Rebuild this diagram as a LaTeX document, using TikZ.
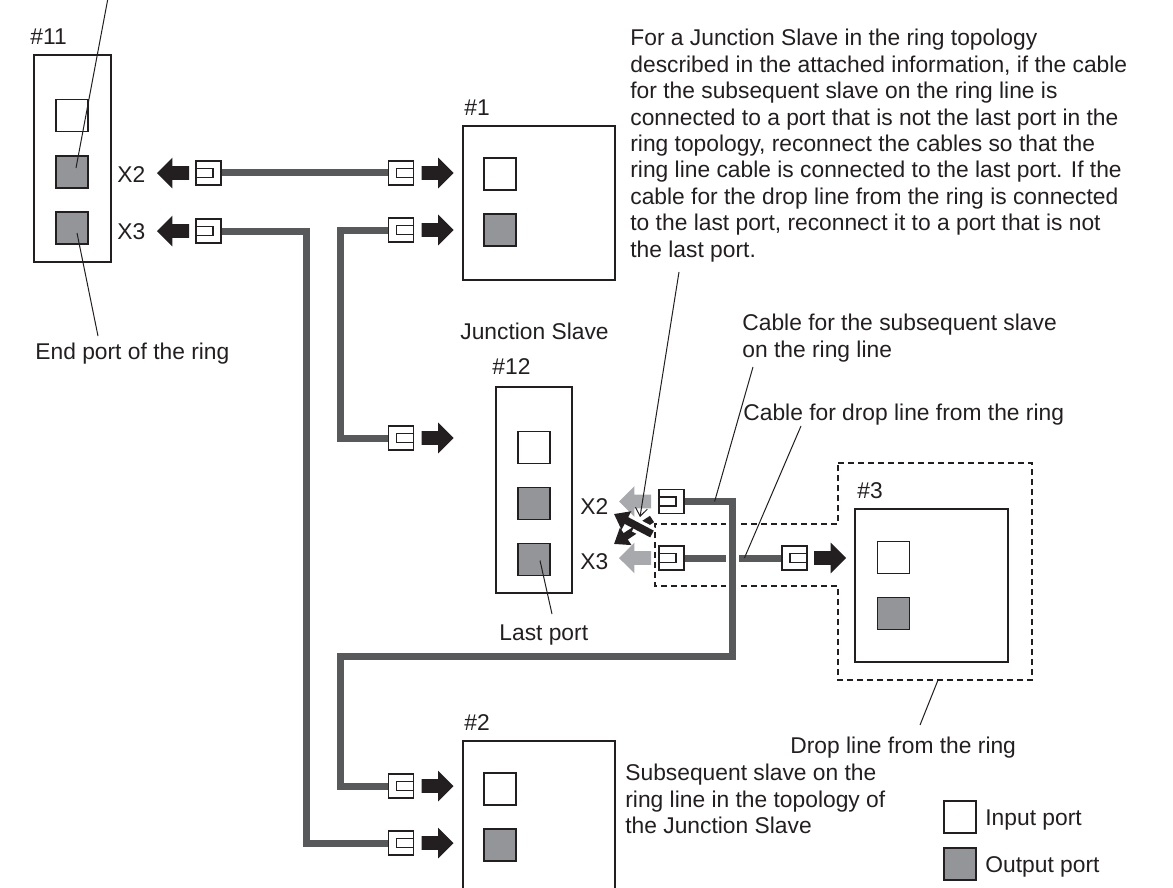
\documentclass[tikz,border=0pt]{standalone}
\usepackage{fontspec}
\setmainfont{Liberation Sans}
\usetikzlibrary{shapes.arrows,arrows.meta,positioning}
\definecolor{ink}{HTML}{231F20}
\definecolor{cablegray}{HTML}{58595B}
\definecolor{portgray}{HTML}{939598}
\definecolor{movegray}{HTML}{A7A9AC}
\tikzset{
  unit/.style={rectangle, draw=ink, line width=0.65pt, fill=white, inner sep=0pt},
  inport/.style={rectangle, draw=ink, line width=0.65pt, fill=white, minimum size=16pt, inner sep=0pt},
  outport/.style={inport, fill=portgray},
  plugl/.style={rectangle, draw=ink, line width=0.6pt, fill=white, minimum width=12.5pt, minimum height=12pt, inner sep=0pt,
    path picture={\draw[ink, line width=0.6pt] ([yshift=-2.25pt]path picture bounding box.west) rectangle ++(8.5pt,4.5pt);}},
  plugr/.style={plugl,
    path picture={\draw[ink, line width=0.6pt] ([yshift=-2.25pt]path picture bounding box.east) rectangle ++(-8.5pt,4.5pt);}},
  cable/.style={draw=cablegray, line width=3.5pt},
  barr/.style={single arrow, fill=ink, draw=none, inner sep=0pt, text height=6.5pt, text depth=0pt,
    minimum height=16pt, single arrow head extend=4.25pt, single arrow tip angle=90},
  barrl/.style={barr, shape border rotate=180},
  garrl/.style={barrl, fill=movegray},
  xarr/.style={draw=ink, line width=3.8pt, -{Triangle[width=10pt,length=7pt]}},
  ptr/.style={draw=ink, line width=0.5pt},
  dropzone/.style={draw=ink, line width=0.6pt, dash pattern=on 3pt off 2pt},
  lbl/.style={inner sep=0pt, anchor=north west, align=left, text=ink, font=\fontsize{11.4}{13.2}\selectfont},
}

\begin{document}
\begin{tikzpicture}[x=0.5pt, y=-0.5pt]
\useasboundingbox (0,0) rectangle (1173,888);
% drop line zone
\draw[dropzone] (838,463) -- (1032,463) -- (1032,680) -- (838,680) -- (838,586) -- (655,586) -- (655,524) -- (838,524) -- cycle;
% slaves
\node[unit, minimum width=38.5pt, minimum height=103.5pt] (u11) at (72.5,158.5) {};
\node[unit, minimum width=76pt, minimum height=77pt] (u1) at (539,203) {};
\node[unit, minimum width=38pt, minimum height=103pt] (u12) at (534,490) {};
\node[unit, minimum width=76.5pt, minimum height=76.5pt] (u3) at (931.5,585.5) {};
\node[unit, minimum width=76pt, minimum height=80pt] (u2) at (539,821) {};
% ports
\node[inport] (q11a) at (72,115.5) {};
\node[outport] (q11b) at (72,172) {};
\node[outport] (q11c) at (72,228) {};
\node[inport] (q1a) at (500,174) {};
\node[outport] (q1b) at (500,230) {};
\node[inport] (q12a) at (534,447.5) {};
\node[outport] (q12b) at (534,503.5) {};
\node[outport] (q12c) at (534,559.5) {};
\node[inport] (q3a) at (893.5,557.5) {};
\node[outport] (q3b) at (893.5,613.5) {};
\node[inport] (q2a) at (500,789) {};
\node[outport] (q2b) at (500,845) {};
\node[inport] (keyin) at (960,817) {};
\node[outport] (keyout) at (960,864) {};
% plugs
\node[plugl] (k11a) at (208.5,173) {};
\node[plugl] (k11b) at (208.5,231) {};
\node[plugr] (k1a) at (401,173) {};
\node[plugr] (k1b) at (401,230) {};
\node[plugr] (k12in) at (401,438) {};
\node[plugl] (k12a) at (671.5,501.5) {};
\node[plugl] (k12b) at (671.5,558) {};
\node[plugr] (k3) at (794.5,558) {};
\node[plugr] (k2a) at (401,786) {};
\node[plugr] (k2b) at (401,843) {};
% cables
\draw[cable] (k11a.east) -- (k1a.west);
\draw[cable] (k11b.east) -- ++(85,0) |- (k2b.west);
\draw[cable] (k1b.west) -- ++(-47.5,0) |- (k12in.west);
\draw[cable] (k12b.east) -- (k3.west);
\draw[cable, preaction={draw=white, line width=6.5pt}] (k12a.east) -- ++(48,0) -- ++(0,154.5) -- ++(-392,0) |- (k2a.west);
% arrows
\node[barr, right=3.5pt of k1a] (a1a) {};
\node[barr, right=3.5pt of k1b] (a1b) {};
\node[barr, right=3.5pt of k12in] (a12) {};
\node[barr, right=3.5pt of k2a] (a2a) {};
\node[barr, right=3.5pt of k2b] (a2b) {};
\node[barr, right=3pt of k3] (a3) {};
\node[barrl, left=3pt of k11a] (a11a) {};
\node[barrl, left=3pt of k11b] (a11b) {};
\node[garrl, left=3.5pt of k12a] (g12a) {};
\node[garrl, left=3.5pt of k12b] (g12b) {};
% swap the cables
\coordinate (xa1s) at (652,534);
\coordinate (xa1e) at (614,514);
\coordinate (xa2s) at (652,519);
\coordinate (xa2e) at (614,544);
\draw[xarr] (xa2s) -- (xa2e);
\draw[white, line width=7pt, shorten >=12pt] (xa1s) -- (xa1e);
\draw[xarr] (xa1s) -- (xa1e);
% texts
\node[lbl] (t11) at (30,28) {\#11};
\node[lbl] (tx2a) at (117,166) {X2};
\node[lbl] (tx3a) at (117,223) {X3};
\node[lbl] (t1) at (464,99) {\#1};
\node[lbl] (tjs) at (460,323) {Junction Slave};
\node[lbl] (t12) at (492,358) {\#12};
\node[lbl] (tx2b) at (580,498) {X2};
\node[lbl] (tx3b) at (580,553) {X3};
\node[lbl] (t3) at (857,482) {\#3};
\node[lbl] (t2) at (464,714) {\#2};
\node[lbl] (tlast) at (499,624) {Last port};
\node[lbl] (tend) at (35,343) {End port of the ring};
\node[lbl] (tnote) at (630,29) {For a Junction Slave in the ring topology\\described in the attached information, if the cable\\for the subsequent slave on the ring line is\\connected to a port that is not the last port in the\\ring topology, reconnect the cables so that the\\ring line cable is connected to the last port. If the\\cable for the drop line from the ring is connected\\to the last port, reconnect it to a port that is not\\the last port.};
\node[lbl] (tnext) at (742,314) {Cable for the subsequent slave\\on the ring line};
\node[lbl] (tdropc) at (743,404) {Cable for drop line from the ring};
\node[lbl] (tdrop) at (790,737) {Drop line from the ring};
\node[lbl] (tsub) at (625,764) {Subsequent slave on the\\ring line in the topology of\\the Junction Slave};
\node[lbl] (tin) at (985,809) {Input port};
\node[lbl] (tout) at (985,856) {Output port};
% leaders
\coordinate (lead11) at (108,-2);
\coordinate (leadend) at (98,336);
\coordinate (leadlast) at (552,614);
\coordinate (leadnote) at (679,272);
\coordinate (swaptip) at (640,517);
\coordinate (leadnext) at (753,367);
\coordinate (leaddropc) at (801,426);
\coordinate (leaddrop) at (920,725);
\coordinate (zonebot) at (938,680);
\draw[ptr] (lead11) -- ([shift={(4,-4)}]q11b.center);
\draw[ptr] ([shift={(5,5)}]q11c.center) -- (leadend);
\draw[ptr] ([shift={(6,1)}]q12c.center) -- (leadlast);
\draw[ptr, -{Straight Barb[length=4pt,width=6pt]}] (leadnote) -- (swaptip);
\draw[ptr] (leadnext) -- ([xshift=15pt]k12a.east);
\draw[ptr] (leaddropc) -- ([xshift=-18.5pt]k3.west);
\draw[ptr] (zonebot) -- (leaddrop);
\end{tikzpicture}
\end{document}
